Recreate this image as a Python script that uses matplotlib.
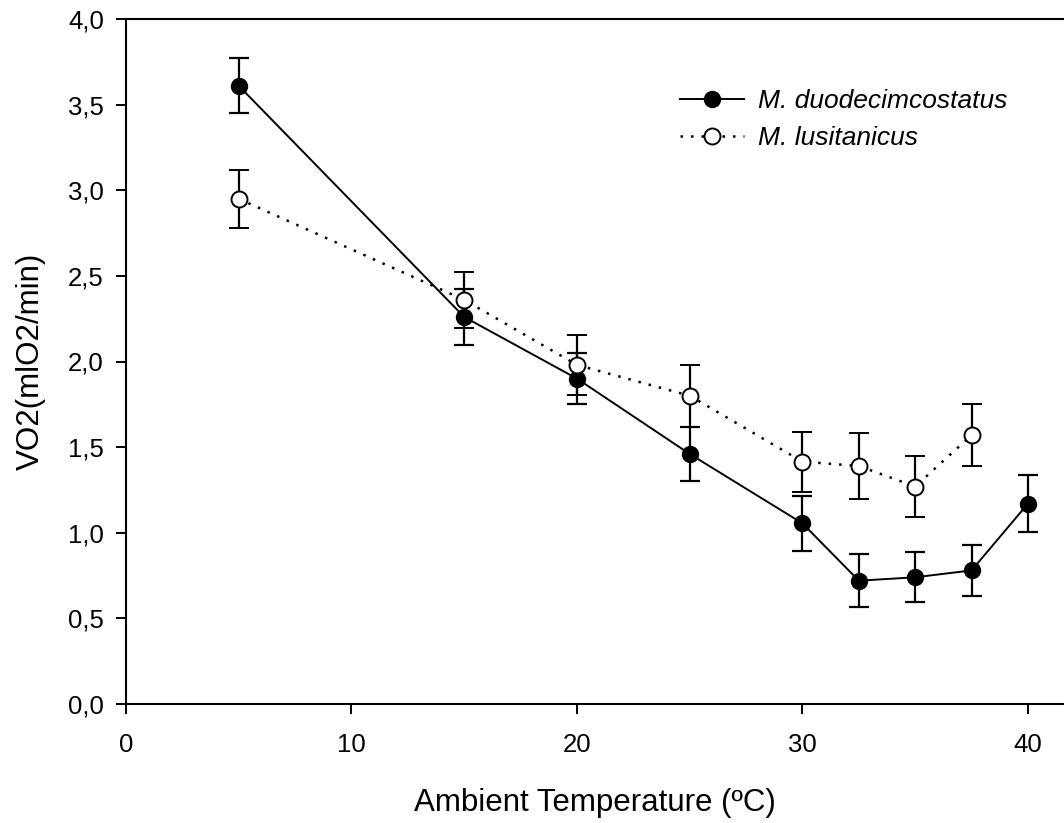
import matplotlib
matplotlib.use("Agg")
import matplotlib.pyplot as plt
from matplotlib.lines import Line2D
from matplotlib.ticker import FuncFormatter

plt.rcParams["font.family"] = ["Liberation Sans", "DejaVu Sans"]

# ---------- data ----------
temp_duo = [5, 15, 20, 25, 30, 32.5, 35, 37.5, 40]
vo2_duo = [3.61, 2.26, 1.90, 1.46, 1.055, 0.72, 0.74, 0.78, 1.17]
err_duo = [0.16, 0.165, 0.15, 0.155, 0.16, 0.155, 0.145, 0.15, 0.165]

temp_lus = [5, 15, 20, 25, 30, 32.5, 35, 37.5]
vo2_lus = [2.95, 2.36, 1.98, 1.80, 1.415, 1.39, 1.27, 1.57]
err_lus = [0.17, 0.165, 0.175, 0.18, 0.175, 0.19, 0.18, 0.18]

x_ticks = [0, 10, 20, 30, 40]
y_ticks = [0.0, 0.5, 1.0, 1.5, 2.0, 2.5, 3.0, 3.5, 4.0]

fig = plt.figure(figsize=(10.64, 8.23), dpi=100)
ax = fig.add_axes([126 / 1064, 1 - 704 / 823, 1 - 126 / 1064, (704 - 19) / 823])

ax.errorbar(temp_duo, vo2_duo, yerr=err_duo, fmt="-o", color="black",
            mfc="black", mec="black", ms=11.5, lw=1.4, elinewidth=1.6,
            capsize=7, capthick=1.6, zorder=3)
ax.errorbar(temp_lus, vo2_lus, yerr=err_lus, fmt="o", ls=(0, (1, 3.2)),
            color="black", mfc="white", mec="black", mew=1.4, ms=11.5, lw=1.8,
            elinewidth=1.6, capsize=7, capthick=1.6, zorder=4)

ax.set_xlim(0, 41.6)
ax.set_ylim(0, 4.0)
ax.set_xticks(x_ticks)
ax.set_yticks(y_ticks)
ax.yaxis.set_major_formatter(FuncFormatter(lambda v, p: f"{v:.1f}".replace(".", ",")))
ax.tick_params(direction="out", length=7, width=1.4, labelsize=18.5, pad=9)
ax.tick_params(axis="x", pad=14)
for s in ["left", "bottom", "top"]:
    ax.spines[s].set_linewidth(1.5)
ax.spines["right"].set_visible(False)

ax.set_xlabel("Ambient Temperature (ºC)", fontsize=22.5, labelpad=22)
ax.set_ylabel("VO2(mlO2/min)", fontsize=22.5, labelpad=16)

handles = [
    Line2D([], [], color="black", lw=1.4, marker="o", ms=11.5, mfc="black", mec="black"),
    Line2D([], [], color="black", lw=1.8, ls=(0, (1, 3.2)), marker="o", ms=11.5,
           mfc="white", mec="black", mew=1.4),
]
labels = ["M. duodecimcostatus", "M. lusitanicus"]
ax.legend(handles, labels, loc="upper left", bbox_to_anchor=(0.577, 0.917), frameon=False,
          prop={"style": "italic", "size": 19}, handlelength=2.4,
          handletextpad=0.55, labelspacing=0.5, borderpad=0)

fig.savefig("out.png", dpi=100)
